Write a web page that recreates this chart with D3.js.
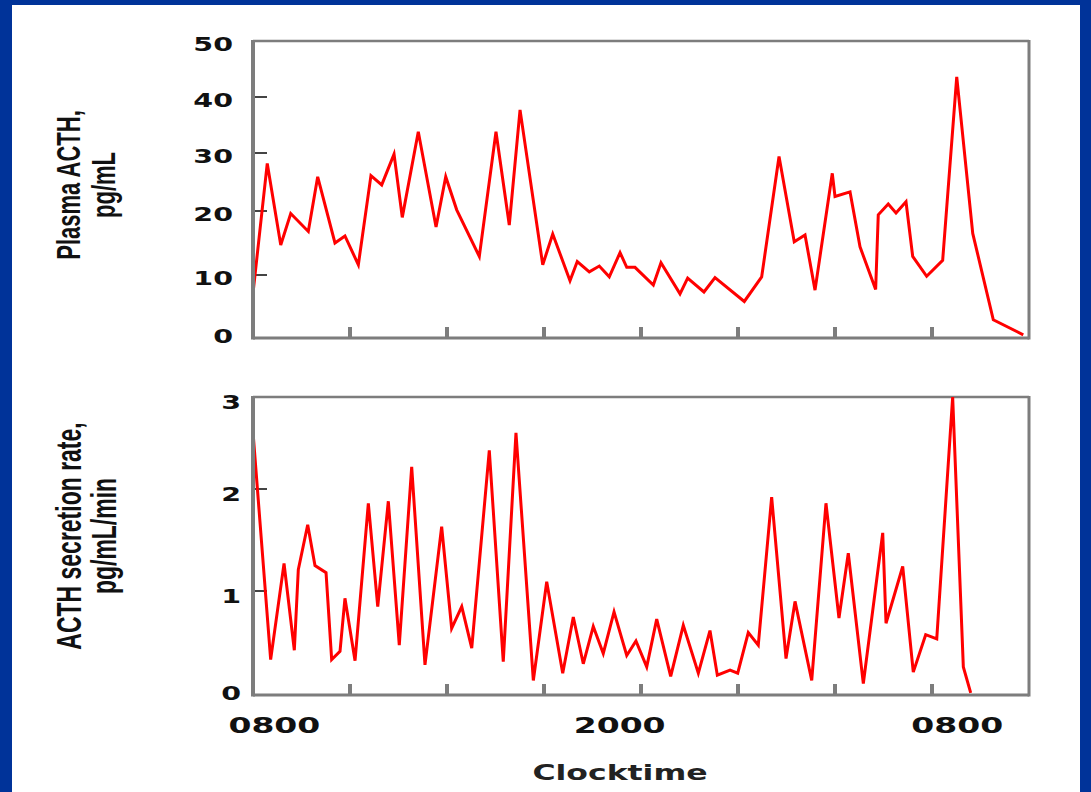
<!DOCTYPE html>
<html><head><meta charset="utf-8">
<script src="https://cdn.jsdelivr.net/npm/d3@7"></script>
<style>html,body{margin:0;padding:0;background:#003399;} svg{display:block;}</style>
</head><body>
<svg id="c" width="1091" height="792"></svg>
<script>
// ---- data (x in axis-tick intervals from the left edge) ----
const xTickValues = [1, 2, 3, 4, 5, 6, 7];
const xLabels = ["0800", "2000", "0800"];
const xLabelPos = [0.22, 3.78, 7.26];
const xTitle = "Clocktime";

const topTicks = [0, 10, 20, 30, 40, 50];
const topTitle = ["Plasma ACTH,", "pg/mL"];
const topTime = [0, 0.147, 0.286, 0.389, 0.570, 0.667, 0.845, 0.948, 1.086, 1.216, 1.327, 1.454, 1.539, 1.704, 1.887, 1.987, 2.100, 2.333, 2.505, 2.642, 2.753, 2.987, 3.090, 3.268, 3.343, 3.467, 3.570, 3.673, 3.784, 3.853, 3.938, 4.127, 4.206, 4.402, 4.481, 4.649, 4.763, 5.065, 5.244, 5.423, 5.580, 5.691, 5.794, 5.972, 6.000, 6.155, 6.258, 6.419, 6.446, 6.549, 6.629, 6.732, 6.801, 6.945, 7.110, 7.255, 7.420, 7.632, 7.941];
const topValues = [7.1, 28.2, 14.7, 19.6, 16.8, 25.9, 15.0, 16.1, 11.6, 26.1, 24.5, 29.8, 19.0, 33.8, 17.5, 25.9, 20.2, 12.9, 33.8, 17.8, 37.7, 11.6, 16.4, 9.1, 12.1, 10.5, 11.4, 9.7, 13.5, 11.2, 11.2, 8.4, 11.9, 7.0, 9.5, 7.3, 9.6, 5.8, 9.7, 29.4, 15.2, 16.25, 7.6, 26.5, 22.5, 23.3, 14.4, 7.7, 19.4, 21.2, 19.7, 21.6, 12.9, 9.8, 12.3, 43.6, 16.5, 2.9, 0.5];

const botTicks = [0, 1, 2, 3];
const botTitle = ["ACTH secretion rate,", "pg/mL/min"];
const botTime = [0, 0.182, 0.320, 0.426, 0.467, 0.564, 0.639, 0.753, 0.811, 0.897, 0.948, 1.052, 1.189, 1.286, 1.395, 1.508, 1.636, 1.773, 1.945, 2.048, 2.152, 2.255, 2.436, 2.580, 2.711, 2.890, 3.028, 3.193, 3.302, 3.405, 3.508, 3.611, 3.722, 3.853, 3.948, 4.059, 4.162, 4.306, 4.436, 4.591, 4.711, 4.787, 4.918, 4.997, 5.106, 5.209, 5.347, 5.495, 5.588, 5.760, 5.907, 6.041, 6.137, 6.292, 6.492, 6.526, 6.698, 6.807, 6.935, 7.049, 7.213, 7.323, 7.399];
const botValues = [2.62, 0.34, 1.27, 0.43, 1.21, 1.65, 1.25, 1.18, 0.34, 0.42, 0.93, 0.33, 1.86, 0.85, 1.88, 0.48, 2.24, 0.29, 1.63, 0.64, 0.85, 0.45, 2.42, 0.32, 2.61, 0.14, 1.09, 0.21, 0.75, 0.30, 0.66, 0.40, 0.80, 0.38, 0.52, 0.27, 0.73, 0.18, 0.67, 0.21, 0.62, 0.19, 0.24, 0.21, 0.60, 0.48, 1.92, 0.35, 0.90, 0.14, 1.86, 0.74, 1.37, 0.11, 1.57, 0.69, 1.24, 0.22, 0.58, 0.54, 3.0, 0.27, 0.02];

// ---- drawing ----
const svg = d3.select("#c");
svg.append("rect").attr("x", 0).attr("y", 0).attr("width", 1091).attr("height", 792).attr("fill", "#003399");
svg.append("rect").attr("x", 12).attr("y", 5).attr("width", 1068).attr("height", 787).attr("fill", "#ffffff");

const SX = 1.5; // horizontal stretch of the original figure
const x = d3.scaleLinear().domain([0, 8]).range([253, 1029]);
const yTop = d3.scaleLinear().domain(topTicks).range([338, 275, 211, 153, 97, 41]);
const yBot = d3.scaleLinear().domain(botTicks).range([695, 591, 489, 397]);

function panel(y, ticks, times, values, title, labelRight, labelDy, titleX, titleY, titleSize) {
  const g = svg.append("g");
  const x0 = x(0), x1 = x(8), yb = y(ticks[0]), yt = y(ticks[ticks.length - 1]);
  const gray = "#7d7d7d";
  // frame
  g.append("line").attr("x1", x0).attr("x2", x1).attr("y1", yt).attr("y2", yt).attr("stroke", gray).attr("stroke-width", 2.5);
  g.append("line").attr("x1", x1).attr("x2", x1).attr("y1", yt - 1).attr("y2", yb + 1.5).attr("stroke", gray).attr("stroke-width", 3);
  g.append("line").attr("x1", x0).attr("x2", x1).attr("y1", yb).attr("y2", yb).attr("stroke", gray).attr("stroke-width", 3);
  // y ticks (inward)
  g.selectAll(".yt").data(ticks.slice(1, -1)).enter().append("line")
    .attr("x1", x0).attr("x2", x0 + 14).attr("y1", d => y(d)).attr("y2", d => y(d))
    .attr("stroke", "#444").attr("stroke-width", 2);
  // x ticks (inward)
  g.selectAll(".xt").data(xTickValues).enter().append("line")
    .attr("x1", d => x(d)).attr("x2", d => x(d)).attr("y1", yb - 11).attr("y2", yb)
    .attr("stroke", gray).attr("stroke-width", 4);
  // data line
  const line = d3.line().x(d => x(d[0])).y(d => y(d[1]));
  g.append("path").datum(times.map((t, i) => [t, values[i]]))
    .attr("d", line).attr("fill", "none").attr("stroke", "#ff0000")
    .attr("stroke-width", 3).attr("stroke-linejoin", "miter");
  // left axis
  g.append("line").attr("x1", x0).attr("x2", x0).attr("y1", yt - 1).attr("y2", yb + 1.5).attr("stroke", gray).attr("stroke-width", 4);
  // y tick labels
  g.selectAll(".yl").data(ticks).enter().append("text")
    .attr("transform", d => `translate(${labelRight},${Math.min(y(d) + labelDy, yb - 2)}) scale(${SX},1)`)
    .attr("text-anchor", "end").attr("dy", "0.36em")
    .attr("font-family", "DejaVu Sans").attr("font-weight", "bold").attr("font-size", 19)
    .attr("fill", "#111").text(d => d);
  // axis title
  const t = g.append("text")
    .attr("transform", `translate(${titleX},${titleY}) scale(${SX},1) rotate(-90)`)
    .attr("text-anchor", "middle")
    .attr("font-family", "Liberation Sans, Arial, sans-serif").attr("font-weight", "bold").attr("font-size", titleSize)
    .attr("fill", "#111");
  title.forEach((s, i) => t.append("tspan").attr("x", 0).attr("y", i * 23.5).text(s));
}

panel(yTop, topTicks, topTime, topValues, topTitle, 233, 3, 80, 185, 22);
panel(yBot, botTicks, botTime, botValues, botTitle, 241, 5, 81, 536, 23);

// x labels
svg.selectAll(".xl").data(xLabels).enter().append("text")
  .attr("transform", (d, i) => `translate(${x(xLabelPos[i])},733) scale(${SX},1)`)
  .attr("text-anchor", "middle")
  .attr("font-family", "DejaVu Sans").attr("font-weight", "bold").attr("font-size", 22)
  .attr("fill", "#111").text(d => d);
svg.append("text")
  .attr("transform", `translate(620,780) scale(${SX},1)`)
  .attr("text-anchor", "middle")
  .attr("font-family", "DejaVu Sans").attr("font-weight", "bold").attr("font-size", 21)
  .attr("fill", "#222").text(xTitle);
</script>
</body></html>
